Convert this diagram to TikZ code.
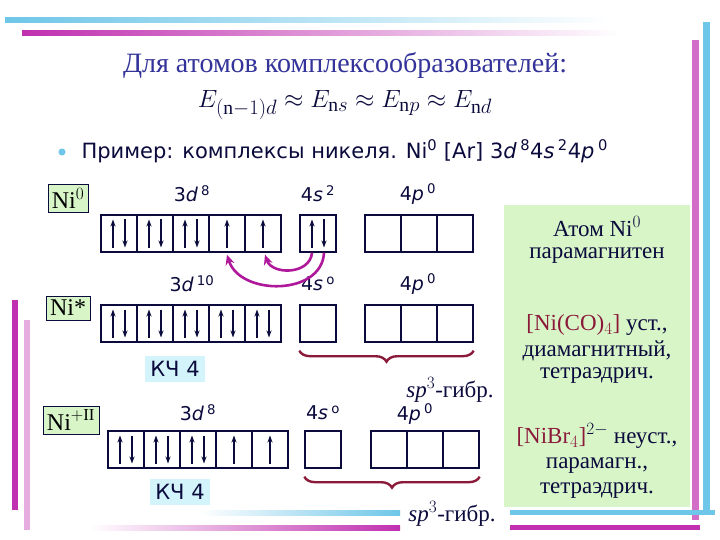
\documentclass[tikz,border=0pt]{standalone}
\usepackage{fontspec}
\setmainfont{Liberation Serif}
\newfontfamily\sansf{DejaVu Sans}
\usetikzlibrary{arrows.meta,decorations.pathreplacing}
\definecolor{navy}{HTML}{0A0A3C}
\definecolor{ttl}{HTML}{33339A}
\definecolor{mag}{HTML}{B0189B}
\definecolor{brc}{HTML}{8B1A3A}
\definecolor{lgreen}{HTML}{D8F5C8}
\definecolor{lcyan}{HTML}{D2F4FA}
\definecolor{cyanbar}{HTML}{6EC6E8}
\definecolor{magbar}{HTML}{C030B0}
\tikzset{
 orb/.style={draw=navy,line width=1.4pt,minimum width=36pt,minimum height=37pt,inner sep=0pt},
 lab/.style={font=\sansf\fontsize{19}{19}\selectfont,text=navy},
 atomlab/.style={draw=navy,fill=lgreen,font=\fontsize{24}{24}\selectfont,inner sep=4pt},
 kch/.style={fill=lcyan,font=\sansf\fontsize{21}{21}\selectfont,text=navy,inner sep=5pt},
 ptext/.style={font=\fontsize{23}{23}\selectfont,text=navy},
 spin/.style={navy,line width=1.8pt,-{Stealth[length=7pt,width=5pt]}},
 swap/.style={mag,line width=2.6pt,-{Stealth[length=10pt,width=9pt]}},
 brace/.style={brc,line width=2.4pt,decorate,decoration={brace,mirror,amplitude=11pt}}
}
\newcommand{\up}[2]{\draw[spin] ([xshift=#2,yshift=-14pt]#1.center) -- ([xshift=#2,yshift=14pt]#1.center);}
\newcommand{\dn}[2]{\draw[spin] ([xshift=#2,yshift=14pt]#1.center) -- ([xshift=#2,yshift=-14pt]#1.center);}
\newcommand{\pr}[1]{\up{#1}{-6pt}\dn{#1}{6pt}}
\begin{document}
\begin{tikzpicture}[x=1pt,y=-1pt]
\useasboundingbox (0,0) rectangle (720,540);
\fill[white] (0,0) rectangle (720,540);
% decorative bars
\shade[left color=cyanbar,right color=white] (5,18) rectangle (610,23);
\shade[left color=magbar,right color=white] (22,31) rectangle (620,36);
\fill[cyanbar] (703,22) rectangle (710,515);
\fill[magbar!70] (692,40) rectangle (699,520);
\fill[magbar] (12,300) rectangle (18,510);
\fill[magbar!40] (24,320) rectangle (30,530);
\shade[left color=white,right color=cyanbar] (200,510) rectangle (400,515);
\fill[cyanbar] (510,510) rectangle (715,515);
\shade[left color=white,right color=magbar] (90,525) rectangle (400,530);
\fill[magbar] (510,525) rectangle (700,530);
% title
\node[text=ttl,font=\fontsize{28}{28}\selectfont] (title) at (345,65) {Для атомов комплексообразователей:};
\node[text=navy,font=\fontsize{28}{28}\selectfont] (formula) at (345,105)
 {$E_{(\mathrm{n}-1)d}\approx E_{\mathrm{n}s}\approx E_{\mathrm{n}p}\approx E_{\mathrm{n}d}$};
\node[circle,fill=cyanbar,inner sep=2.5pt] (bul) at (62,152) {};
\node[anchor=west,lab,font=\sansf\fontsize{21}{21}\selectfont] (ex) at (78,151)
 {Пример: комплексы никеля. Ni\textsuperscript{0} [Ar] 3\textit{d}\,\textsuperscript{8}4\textit{s}\,\textsuperscript{2}4\textit{p}\,\textsuperscript{0}};
% atom labels
\node[atomlab] (ni0) at (68,198) {Ni$^{0}$};
\node[atomlab] (nis) at (68,308) {Ni*};
\node[atomlab] (ni2) at (71,420) {Ni$^{+\mathrm{II}}$};
% row labels
\node[lab] (l1d) at (192,194) {3\textit{d}\,\textsuperscript{8}};
\node[lab] (l1s) at (318,194) {4\textit{s}\,\textsuperscript{2}};
\node[lab] (l1p) at (418,194) {4\textit{p}\,\textsuperscript{0}};
\node[lab] (l2d) at (192,284) {3\textit{d}\,\textsuperscript{10}};
\node[lab] (l2s) at (318,284) {4\textit{s}\,\textsuperscript{o}};
\node[lab] (l2p) at (418,284) {4\textit{p}\,\textsuperscript{0}};
\node[lab] (l3d) at (198,413) {3\textit{d}\,\textsuperscript{8}};
\node[lab] (l3s) at (323,413) {4\textit{s}\,\textsuperscript{o}};
\node[lab] (l3p) at (415,414) {4\textit{p}\,\textsuperscript{0}};
% row 1
\foreach \i in {1,...,5} \node[orb] (a\i) at (101+36*\i-18,233.5) {};
\node[orb] (as) at (318,233.5) {};
\foreach \i in {1,2,3} \node[orb] (ap\i) at (365+36*\i-18,233.5) {};
\pr{a1}\pr{a2}\pr{a3}\up{a4}{0pt}\up{a5}{0pt}\pr{as}
% row 2
\foreach \i in {1,...,5} \node[orb] (b\i) at (101+36*\i-18,323.5) {};
\node[orb] (bs) at (318,323.5) {};
\foreach \i in {1,2,3} \node[orb] (bp\i) at (365+36*\i-18,323.5) {};
\pr{b1}\pr{b2}\pr{b3}\pr{b4}\pr{b5}
% row 3
\foreach \i in {1,...,5} \node[orb] (c\i) at (108+36*\i-18,449.5) {};
\node[orb] (cs) at (323,449.5) {};
\foreach \i in {1,2,3} \node[orb] (cp\i) at (371+36*\i-18,449.5) {};
\pr{c1}\pr{c2}\pr{c3}\up{c4}{0pt}\up{c5}{0pt}
% swap arrows
\draw[swap] ([xshift=-6pt]as.south) .. controls (310,275) and (272,275) .. ([xshift=2pt,yshift=-2pt]a5.south);
\draw[swap] ([xshift=6pt]as.south) .. controls (322,296) and (240,296) .. ([yshift=-2pt]a4.south);
% braces
\draw[brace] ([yshift=-8pt]bs.south west) -- ([yshift=-8pt]bp3.south east);
\draw[brace] ([yshift=-8pt]cs.south west) -- ([yshift=-8pt]cp3.south east);
% KCh and sp3
\node[kch] (k1) at (175,369) {КЧ 4};
\node[kch] (k2) at (180,492) {КЧ 4};
\node[ptext] (sp1) at (450,390) {\textit{sp}$^3$-гибр.};
\node[ptext] (sp2) at (452,514) {\textit{sp}$^3$-гибр.};
% green panel
\node[fill=lgreen,minimum width=186pt,minimum height=302pt,anchor=north west] (panel) at (504,205) {};
\node[ptext] (t1) at (597,227) {Атом Ni$^{0}$};
\node[ptext] (t2) at (597,256) {парамагнитен};
\node[ptext] (t3) at (597,325) {\textcolor{brc}{[Ni(CO)$_4$]} уст.,};
\node[ptext] (t4) at (597,351) {диамагнитный,};
\node[ptext] (t5) at (597,376) {тетраэдрич.};
\node[ptext] (t6) at (597,436) {\textcolor{brc}{[NiBr$_4$]}$^{2-}$ неуст.,};
\node[ptext] (t7) at (597,466) {парамагн.,};
\node[ptext] (t8) at (597,491) {тетраэдрич.};
\end{tikzpicture}
\end{document}
